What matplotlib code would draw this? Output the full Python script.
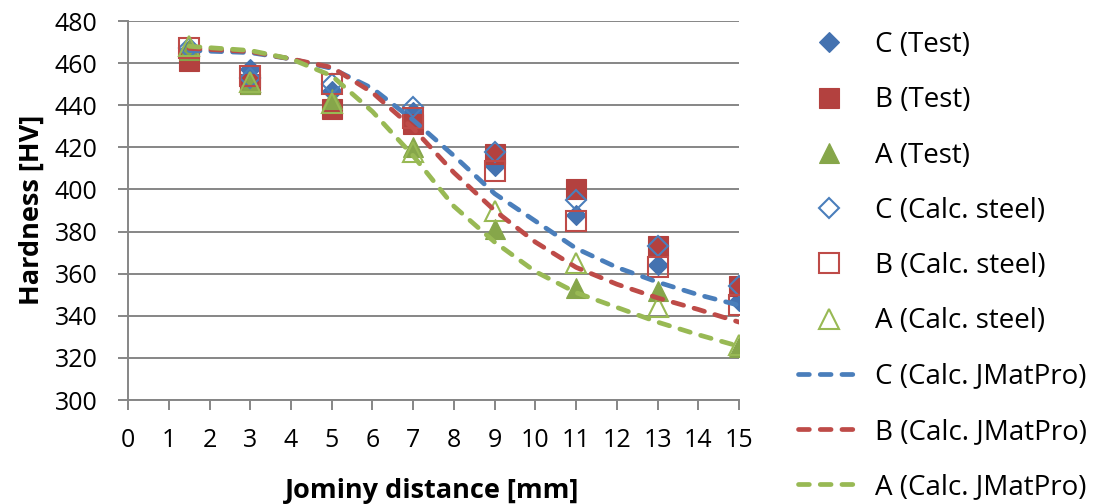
import matplotlib
matplotlib.use("Agg")
import matplotlib.pyplot as plt

plt.rcParams['font.family'] = ['Open Sans', 'DejaVu Sans']

# measured points (Jominy distance, mm)
x_pts = [1.5, 3, 5, 7, 9, 11, 13, 15]
c_test = [466, 457, 447, 437, 411, 388, 364, 347]
b_test = [461, 450, 438, 431, 417, 400, 373, 354]
a_test = [466, 450, 443, 420, 381, 353, 352, 325]
c_steel = [467, 453, 450, 439, 418, 395, 373, 354]
b_steel = [467, 454, 450, 434, 409, 385, 363, 345]
a_steel = [468, 451, 441, 418, 390, 365, 344, 326]

# JMatPro curves
x_line = [1.5, 3, 4, 5, 6, 7, 8, 9, 10, 11, 12, 13, 14, 15]
c_jmp = [466, 465, 462, 457.5, 448, 433, 416, 398, 385, 372, 363, 356, 350, 345]
b_jmp = [467, 465.5, 462, 458, 446, 429, 408, 390, 375, 363, 355, 348.5, 343, 337]
a_jmp = [468, 466, 462, 454, 437, 416, 392, 375, 361, 351, 344, 337, 331, 325.5]

blue, red, green = '#4A7EBB', '#BE4B48', '#98B954'
blue_d, red_d, green_d = '#4472B0', '#B3413F', '#86A64A'
grid_c = '#868686'
fs = 18

fig = plt.figure(figsize=(10.99, 5.04), dpi=100)
ax = fig.add_axes([0.1165, 0.2063, 0.556, 0.752])

ms_d, ms_s, ms_t = 10.5, 14.5, 14
ax.plot(x_pts, c_test, ls='none', marker='D', ms=ms_d, mew=0.8, color=blue_d, label='C (Test)')
ax.plot(x_pts, b_test, ls='none', marker='s', ms=ms_s, mew=0.8, color=red_d, label='B (Test)')
ax.plot(x_pts, a_test, ls='none', marker='^', ms=ms_t, mew=0.8, color=green_d, label='A (Test)')
ax.plot(x_pts, c_steel, ls='none', marker='D', ms=ms_d, mfc='none', mec=blue, mew=1.5,
        label='C (Calc. steel)')
ax.plot(x_pts, b_steel, ls='none', marker='s', ms=ms_s, mfc='none', mec=red, mew=1.5,
        label='B (Calc. steel)')
ax.plot(x_pts, a_steel, ls='none', marker='^', ms=ms_t, mfc='none', mec=green, mew=1.5,
        label='A (Calc. steel)')

for y, col, lab in [(c_jmp, blue, 'C (Calc. JMatPro)'),
                    (b_jmp, red, 'B (Calc. JMatPro)'),
                    (a_jmp, green, 'A (Calc. JMatPro)')]:
    ax.plot(x_line, y, color=col, lw=3.4, dashes=(2.3, 2.3), dash_capstyle='round',
            solid_joinstyle='round', label=lab)

ax.set_xlim(0, 15)
ax.set_ylim(300, 480)
ax.set_xticks(range(0, 16))
ax.set_yticks(range(300, 481, 20))
ax.yaxis.grid(True, color=grid_c, lw=1.4)
ax.set_axisbelow(True)
for s in ['top', 'right']:
    ax.spines[s].set_visible(False)
for s in ['left', 'bottom']:
    ax.spines[s].set_color(grid_c)
    ax.spines[s].set_linewidth(1.4)
ax.tick_params(axis='both', direction='out', length=7, width=1.4, color=grid_c,
               labelsize=fs)
ax.tick_params(axis='y', pad=15)
ax.tick_params(axis='x', pad=13)

ax.set_xlabel('Jominy distance [mm]', fontsize=19.5, fontweight='bold')
ax.set_ylabel('Hardness [HV]', fontsize=19.5, fontweight='bold')
ax.xaxis.set_label_coords(0.4975, -0.205)
ax.yaxis.set_label_coords(-0.137, 0.501)

fig.legend(loc='upper left', bbox_to_anchor=(0.716, 1 - 20 / 504), frameon=False, fontsize=20,
           handlelength=2.2, handletextpad=0.58, labelspacing=0.98, borderaxespad=0)

fig.savefig('out.png', dpi=100)
